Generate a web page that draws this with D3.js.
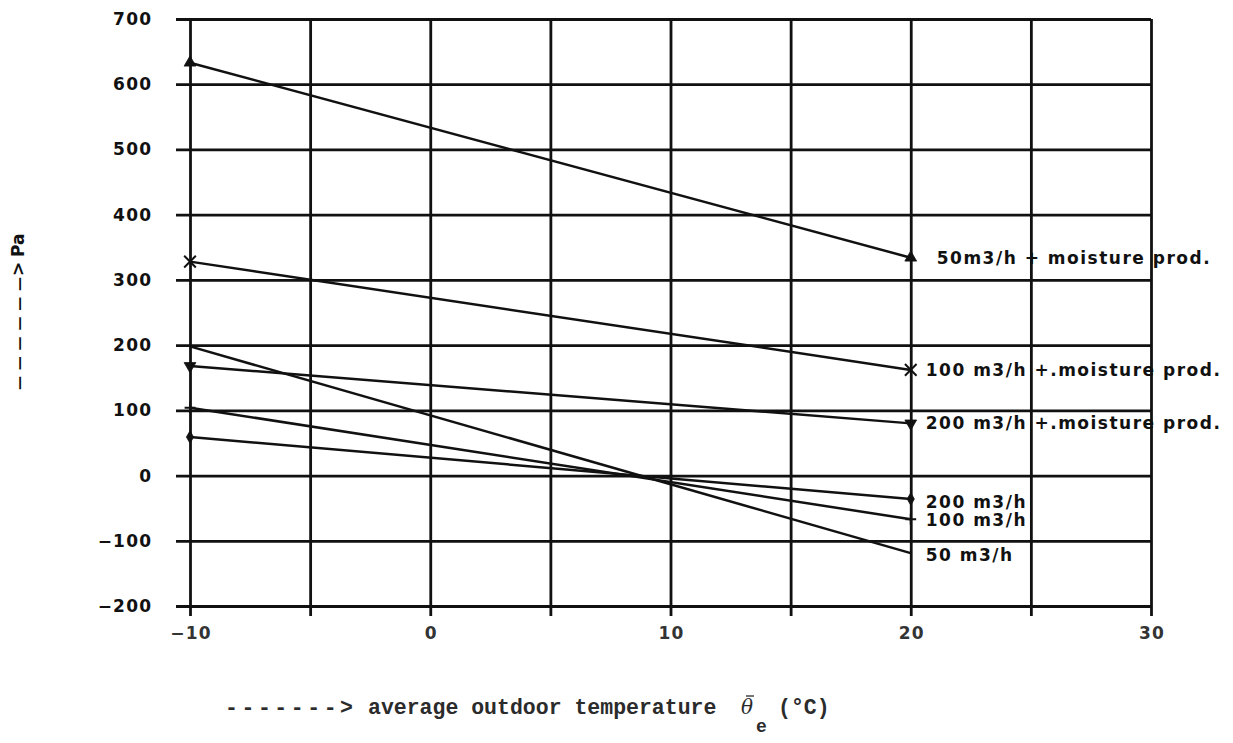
<!DOCTYPE html>
<html>
<head>
<meta charset="utf-8">
<script src="https://cdn.jsdelivr.net/npm/d3@7"></script>
<style>
  html, body { margin: 0; padding: 0; background: #ffffff; }
  svg { display: block; }
  .plot-font { font-family: "DejaVu Sans", sans-serif; font-weight: bold; }
</style>
</head>
<body>
<svg id="chart" width="1233" height="743"></svg>
<script>
// Outdoor temperature (°C) at which each curve is evaluated
const temperatures = [-10, 20];

// Pressure (Pa) per ventilation case
const moist50  = [633, 334];   // 50 m3/h + moisture production
const moist100 = [328, 162];   // 100 m3/h + moisture production
const moist200 = [168, 80];    // 200 m3/h + moisture production
const vent50   = [198, -119];  // 50 m3/h
const vent100  = [104, -67];   // 100 m3/h
const vent200  = [59, -36];    // 200 m3/h

const curveLabels = [
  "50m3/h + moisture prod.",
  "100 m3/h +.moisture prod.",
  "200 m3/h +.moisture prod.",
  "50 m3/h",
  "100 m3/h",
  "200 m3/h"
];

const yTicks = [-200, -100, 0, 100, 200, 300, 400, 500, 600, 700];
const xGrid  = [-10, -5, 0, 5, 10, 15, 20, 25, 30];
const xLabelled = [-10, 0, 10, 20, 30];

const series = [
  { values: moist50,  marker: "triUp",   label: curveLabels[0], labelGap: 26, labelDy: 0 },
  { values: moist100, marker: "cross",   label: curveLabels[1], labelGap: 15, labelDy: 0 },
  { values: moist200, marker: "triDown", label: curveLabels[2], labelGap: 15, labelDy: 0 },
  { values: vent50,   marker: null,      label: curveLabels[3], labelGap: 15, labelDy: 2 },
  { values: vent100,  marker: "plus",    label: curveLabels[4], labelGap: 15, labelDy: 1 },
  { values: vent200,  marker: "diamond", label: curveLabels[5], labelGap: 15, labelDy: 3 }
];

const svg = d3.select("#chart");
const ink = "#111111";

const x = d3.scaleLinear().domain([-10, 30]).range([190, 1151]);
const y = d3.scaleLinear().domain([-200, 700]).range([606, 19]);

const gridLeft = 176, gridBottom = 616;
const fmt = d => d3.format("d")(d).replace("-", "\u2212");

// Horizontal grid + y tick labels
const yAxis = d3.axisLeft(y)
  .tickValues(yTicks)
  .tickSize(-(x.range()[1] - gridLeft))
  .tickPadding(25)
  .tickFormat(fmt);

const gy = svg.append("g")
  .attr("transform", `translate(${gridLeft},0)`)
  .call(yAxis);
gy.select(".domain").remove();
gy.selectAll(".tick line").attr("stroke", ink).attr("stroke-width", 2.8);
gy.selectAll(".tick text")
  .attr("class", "plot-font")
  .attr("fill", ink)
  .attr("font-size", 17)
  .attr("letter-spacing", 1.2)
  .attr("dx", 1.2);

// Vertical grid + x tick labels
const xAxis = d3.axisBottom(x)
  .tickValues(xGrid)
  .tickSize(-(gridBottom - y.range()[1]))
  .tickPadding(10)
  .tickFormat(d => xLabelled.includes(d) ? fmt(d) : "");

const gx = svg.append("g")
  .attr("transform", `translate(0,${gridBottom})`)
  .call(xAxis);
gx.select(".domain").remove();
gx.selectAll(".tick line").attr("stroke", ink).attr("stroke-width", 2.8);
gx.selectAll(".tick text")
  .attr("class", "plot-font")
  .attr("fill", "#333333")
  .attr("font-size", 17)
  .attr("letter-spacing", 1.2)
  .attr("dx", 0.6)
  .attr("dy", "0.75em");

// Curves
const line = d3.line()
  .x((d, i) => x(temperatures[i]))
  .y(d => y(d));

const curves = svg.append("g");
series.forEach(s => {
  curves.append("path")
    .datum(s.values)
    .attr("d", line)
    .attr("fill", "none")
    .attr("stroke", ink)
    .attr("stroke-width", 2.5);
});

// Markers at both ends of each curve
const markerShapes = {
  triUp:   { type: d3.symbolTriangle, size: 60, rot: 0,   fill: true },
  triDown: { type: d3.symbolTriangle, size: 60, rot: 180, fill: true },
  diamond: { type: d3.symbolDiamond,  size: 45, rot: 0,   fill: true },
  cross:   { type: d3.symbolX,        size: 90, rot: 0,   fill: false },
  plus:    { type: d3.symbolPlus,     size: 40, rot: 0,   fill: false }
};

series.filter(s => s.marker).forEach(s => {
  const m = markerShapes[s.marker];
  svg.append("g").selectAll("path")
    .data(s.values)
    .join("path")
    .attr("transform", (d, i) => `translate(${x(temperatures[i])},${y(d)}) rotate(${m.rot})`)
    .attr("d", d3.symbol(m.type, m.size))
    .attr("fill", m.fill ? ink : "none")
    .attr("stroke", ink)
    .attr("stroke-width", m.fill ? 0.8 : 2);
});

// Curve labels at the right end
series.forEach(s => {
  const last = s.values.length - 1;
  svg.append("text")
    .attr("class", "plot-font")
    .attr("x", x(temperatures[last]) + s.labelGap)
    .attr("y", y(s.values[last]) + s.labelDy)
    .attr("dy", "0.36em")
    .attr("font-size", 17)
    .attr("letter-spacing", 1.5)
    .attr("fill", ink)
    .text(s.label);
});

// Y axis title (rotated, reading upwards)
const yt = svg.append("text")
  .attr("class", "plot-font")
  .attr("transform", "translate(24,390) rotate(-90)")
  .attr("font-size", 17)
  .attr("fill", ink);
yt.append("tspan").attr("x", 0).attr("font-size", 14)
  .attr("textLength", 113).attr("lengthAdjust", "spacing")
  .text("\u2014\u2014\u2014\u2014\u2014\u2014");
yt.append("tspan").attr("x", 114).text(">");
yt.append("tspan").attr("x", 133).text("Pa");

// X axis title
const xt = svg.append("text")
  .attr("y", 714)
  .attr("font-family", "'Liberation Mono', 'Courier New', monospace")
  .attr("font-size", 21.5)
  .attr("font-weight", "bold")
  .attr("fill", "#2b2b2b")
  .attr("xml:space", "preserve");
xt.append("tspan").attr("x", 225).attr("textLength", 128).attr("lengthAdjust", "spacing").text("------->");
xt.append("tspan").attr("x", 368).text("average outdoor temperature");
xt.append("tspan").attr("x", 741)
  .attr("font-family", "'DejaVu Serif', serif")
  .attr("font-style", "italic")
  .attr("font-weight", "normal")
  .attr("font-size", 20)
  .text("\u03B8");
xt.append("tspan").attr("x", 756).attr("dy", 18).attr("font-size", 18).text("e");
xt.append("tspan").attr("dy", -18).attr("x", 778).text("(\u00B0C)");

// Mean bar over the theta symbol
svg.append("line")
  .attr("x1", 746).attr("x2", 754)
  .attr("y1", 696).attr("y2", 696)
  .attr("stroke", "#2b2b2b")
  .attr("stroke-width", 1.3);
</script>
</body>
</html>
